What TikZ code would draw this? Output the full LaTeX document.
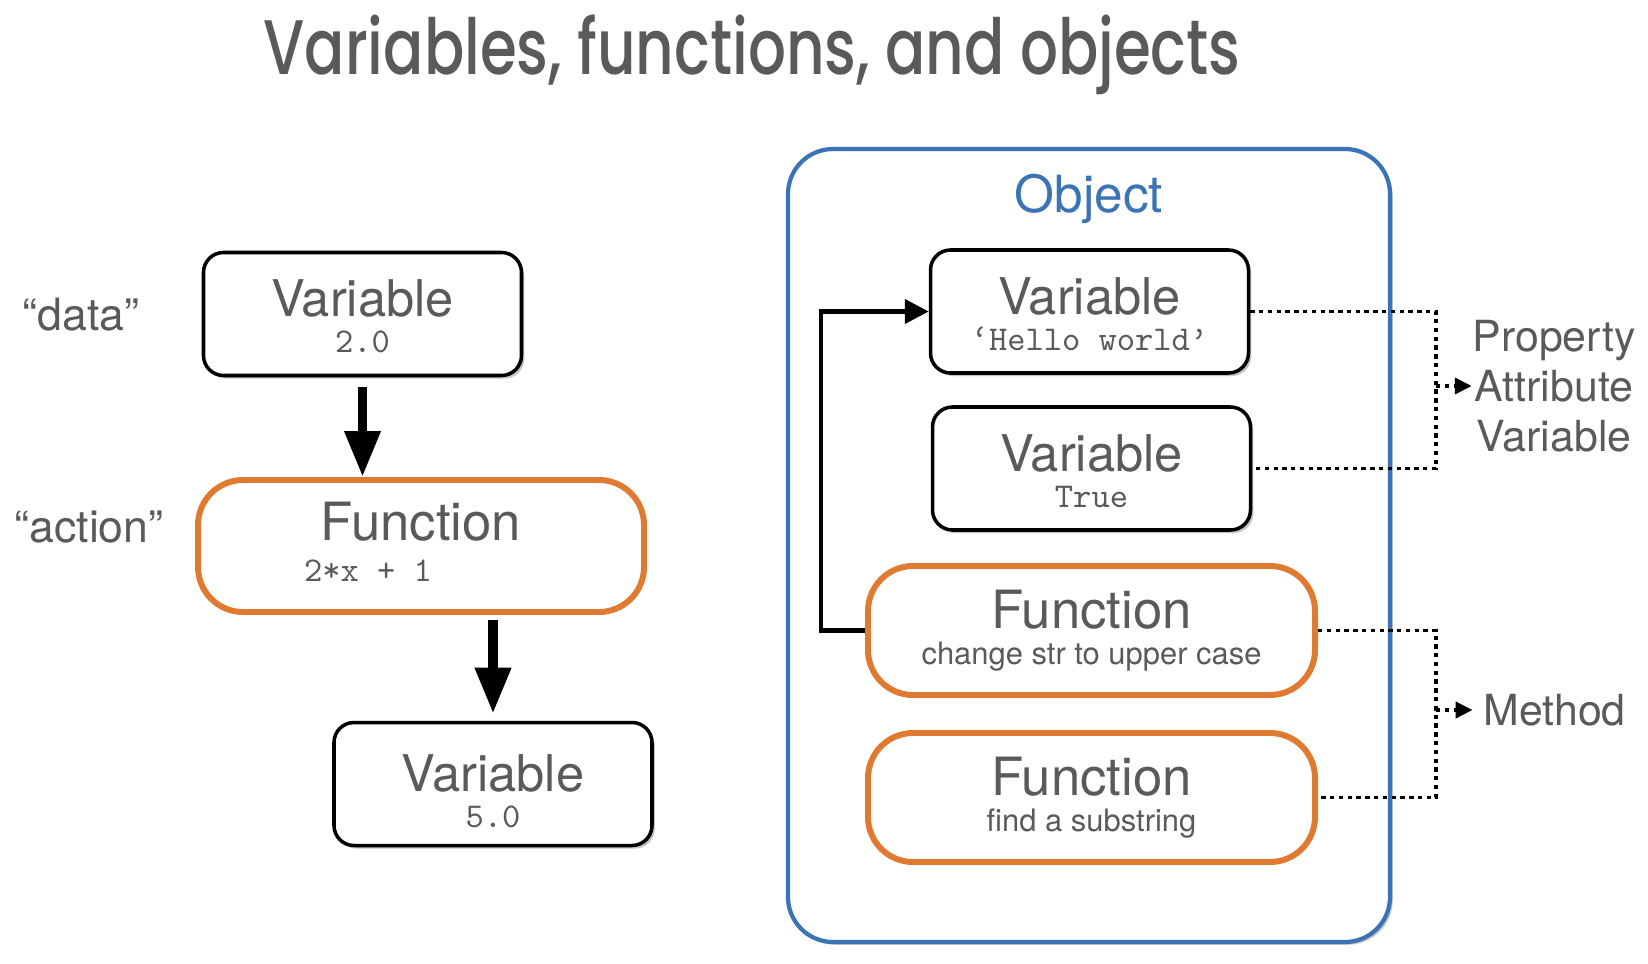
\documentclass[tikz,border=0pt]{standalone}
\usepackage{fontspec}
\setmainfont{TeX Gyre Heros}
\newfontfamily\titlefont{Poppins Medium}
\usetikzlibrary{arrows.meta,positioning,calc,shadows}
\definecolor{txtgray}{HTML}{5A5A5A}
\definecolor{fnorange}{HTML}{E07A30}
\definecolor{objblue}{HTML}{3A74B6}
\newcommand{\codetxt}[1]{{\ttfamily\fontsize{9.9}{10}\selectfont #1}}
\newcommand{\desctxt}[1]{{\fontsize{8.8}{10}\selectfont #1}}

\begin{document}
\begin{tikzpicture}[
    >=Latex,
    every node/.style={text=txtgray},
    varbox/.style={draw=black, line width=1pt, fill=white, rounded corners=0.2cm, minimum width=3.18cm, minimum height=1.23cm, align=center, font=\fontsize{14.4}{10.2}\selectfont, drop shadow={shadow xshift=0.8pt, shadow yshift=-0.9pt, fill=black!45, opacity=0.5}},
    funcbox/.style={draw=fnorange, line width=1.7pt, fill=white, rounded corners=0.45cm, minimum width=4.47cm, minimum height=1.29cm, align=center, font=\fontsize{15}{10.2}\selectfont},
    objbox/.style={draw=objblue, line width=1.2pt, fill=white, rounded corners=0.45cm, minimum width=6.02cm, minimum height=7.93cm, drop shadow={shadow xshift=0.8pt, shadow yshift=-0.8pt, fill=black!45, opacity=0.5}},
    sidelabel/.style={font=\fontsize{12.7}{14}\selectfont, inner sep=0pt},
    kindlabel/.style={font=\fontsize{12.2}{14.2}\selectfont, inner sep=0pt, align=center},
    bigarrow/.style={line width=2.8pt, -{Triangle[length=0.46cm, width=0.34cm]}},
    fbarrow/.style={line width=1.2pt, -{Triangle[length=0.24cm, width=0.24cm]}},
    dotline/.style={line width=1.1pt, dash pattern=on 1.25pt off 1.25pt},
    dotarrow/.style={dotline, -{Triangle[length=0.17cm, width=0.16cm]}}
]
\useasboundingbox (0,0) rectangle (16.48,-9.64);

\node[anchor=base, inner sep=0pt] (title) at (7.52,-0.74) {\resizebox{9.77cm}{\height}{\titlefont\fontsize{22}{24}\selectfont Variables, functions, and objects}};

% left: data -> action -> data
\node[sidelabel, anchor=base] (data) at (0.81,-3.30) {“data”};
\node[sidelabel, anchor=base] (action) at (0.89,-5.42) {“action”};

\node[varbox] (var1) at (3.625,-3.14) {\rule{0pt}{12pt}Variable\\\codetxt{2.0}};
\node[funcbox, minimum width=4.46cm, minimum height=1.32cm] (fn) at (4.21,-5.46) {Function\\[1.2pt]\codetxt{2*x + 1}\hspace*{1.06cm}\rule[-2.4pt]{0pt}{0pt}};
\node[varbox] (var2) at (4.93,-7.84) {\rule{0pt}{14.5pt}Variable\\\codetxt{5.0}};

\draw[bigarrow] ([yshift=-0.1cm]var1.south) -- (var1.south |- fn.north);
\draw[bigarrow] ([yshift=-0.05cm]fn.south -| var2.north) -- ([yshift=0.07cm]var2.north);

% right: the object
\node[objbox] (obj) at (10.89,-5.455) {};
\node[anchor=base, font=\fontsize{14.6}{16}\selectfont, text=objblue] (objname) at (10.89,-2.12) {Object};

\node[varbox] (hello) at (10.895,-3.115) {\rule{0pt}{12pt}Variable\\\codetxt{‘Hello world’}};
\node[varbox] (truev) at (10.915,-4.685) {\rule{0pt}{12pt}Variable\\\codetxt{True}};
\node[funcbox] (chg) at (10.915,-6.305) {Function\\\desctxt{change str to upper case}};
\node[funcbox] (fnd) at (10.915,-7.975) {Function\\\desctxt{find a substring}};

\draw[fbarrow] (chg.west) -- ++(-0.44,0) |- (hello.west);

% property / method brackets
\coordinate (pbus) at (14.36,-3.86);
\coordinate (mbus) at (14.36,-7.10);
\node[kindlabel] (props) at (15.54,-3.86) {Property\\Attribute\\Variable};
\node[kindlabel] (meth) at (15.545,-7.10) {Method};

\draw[dotline] (hello.east) -| (pbus) |- (truev.east);
\draw[dotarrow] (pbus) -- (props.west);
\draw[dotline] (chg.east) -| (mbus) |- (fnd.east);
\draw[dotarrow] (mbus) -- ([xshift=-0.1cm]meth.west);
\end{tikzpicture}
\end{document}
